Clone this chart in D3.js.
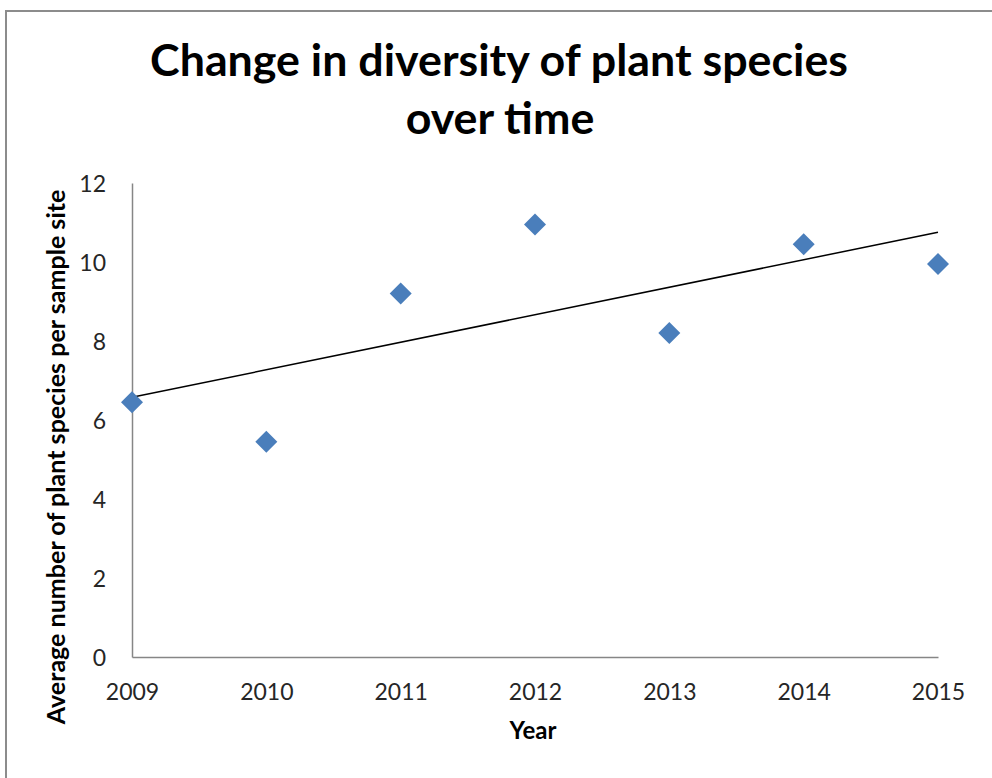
<!DOCTYPE html>
<html>
<head>
<meta charset="utf-8">
<script src="https://cdn.jsdelivr.net/npm/d3@7"></script>
<style>
  html, body { margin: 0; padding: 0; background: #fff; }
  svg { display: block; }
  text { font-family: Lato, "Open Sans", sans-serif; }
</style>
</head>
<body>
<svg id="chart" width="992" height="778"></svg>
<script>
// Average number of plant species per sample site, by survey year
const years = [2009, 2010, 2011, 2012, 2013, 2014, 2015];
const species = [6.45, 5.45, 9.2, 10.95, 8.2, 10.45, 9.95];
const yTicks = [0, 2, 4, 6, 8, 10, 12];

const titleLines = ["Change in diversity of plant species", "over time"];
const xTitle = "Year";
const yTitle = "Average number of plant species per sample site";

const svg = d3.select("#chart");
const W = 992, H = 778;
const plot = { left: 132, right: 938, top: 183, bottom: 657 };

// outer chart border
svg.append("rect")
  .attr("x", 6).attr("y", 11)
  .attr("width", W + 20).attr("height", H + 20)
  .attr("fill", "#fff").attr("stroke", "#8c8c8c").attr("stroke-width", 2);

const x = d3.scaleLinear().domain([2009, 2015]).range([plot.left, plot.right]);
const y = d3.scaleLinear().domain([0, 12]).range([plot.bottom, plot.top]);

// title, scaled so the first line spans its intended width
const title = svg.append("g");
const t1 = title.append("text")
  .attr("x", 499).attr("y", 76)
  .attr("text-anchor", "middle")
  .attr("font-weight", 700).attr("font-size", 42).attr("fill", "#000")
  .text(titleLines[0]);
const fit = 42 * 698 / t1.node().getComputedTextLength();
t1.attr("font-size", fit);
title.append("text")
  .attr("x", 500).attr("y", 134)
  .attr("text-anchor", "middle")
  .attr("font-weight", 700).attr("font-size", fit).attr("fill", "#000")
  .text(titleLines[1]);

// axes
const xAxis = d3.axisBottom(x).tickValues(years).tickFormat(d3.format("d")).tickSize(0).tickPadding(0);
const yAxis = d3.axisLeft(y).tickValues(yTicks).tickSize(0).tickPadding(0);

const gx = svg.append("g").attr("transform", `translate(0,${plot.bottom})`).call(xAxis);
gx.select(".domain").attr("stroke", "#868686").attr("stroke-width", 1.5);
gx.selectAll(".tick text")
  .attr("y", 43).attr("dy", 0)
  .attr("font-size", 23).attr("font-family", "Lato, sans-serif").attr("fill", "#262626");

const gy = svg.append("g").attr("transform", `translate(${plot.left},0)`).call(yAxis);
gy.select(".domain").attr("stroke", "#868686").attr("stroke-width", 1.5);
gy.selectAll(".tick text")
  .attr("x", -26).attr("dy", "0.35em")
  .attr("font-size", 23).attr("font-family", "Lato, sans-serif").attr("fill", "#262626");

// axis titles
svg.append("text")
  .attr("x", 533).attr("y", 739)
  .attr("text-anchor", "middle")
  .attr("font-weight", 700).attr("font-size", 24).attr("fill", "#000")
  .text(xTitle);

const yt = svg.append("text")
  .attr("transform", "translate(65,457) rotate(-90)")
  .attr("text-anchor", "middle")
  .attr("font-weight", 700).attr("font-size", 20).attr("fill", "#000")
  .text(yTitle);
yt.attr("font-size", 20 * 535 / yt.node().getComputedTextLength());

// least-squares linear trendline
const mx = d3.mean(years), my = d3.mean(species);
const slope = d3.sum(years, (d, i) => (d - mx) * (species[i] - my)) / d3.sum(years, d => (d - mx) ** 2);
const intercept = my - slope * mx;
const xEnds = d3.extent(years);
svg.append("line")
  .attr("x1", x(xEnds[0])).attr("y1", y(intercept + slope * xEnds[0]))
  .attr("x2", x(xEnds[1])).attr("y2", y(intercept + slope * xEnds[1]))
  .attr("stroke", "#000").attr("stroke-width", 1.5);

// diamond markers
const diamond = d3.symbol().type(d3.symbolSquare).size(242);
svg.append("g").selectAll("path")
  .data(years)
  .join("path")
  .attr("d", diamond)
  .attr("transform", (d, i) => `translate(${x(d)},${y(species[i])}) rotate(45)`)
  .attr("fill", "#4a7ebb");
</script>
</body>
</html>
